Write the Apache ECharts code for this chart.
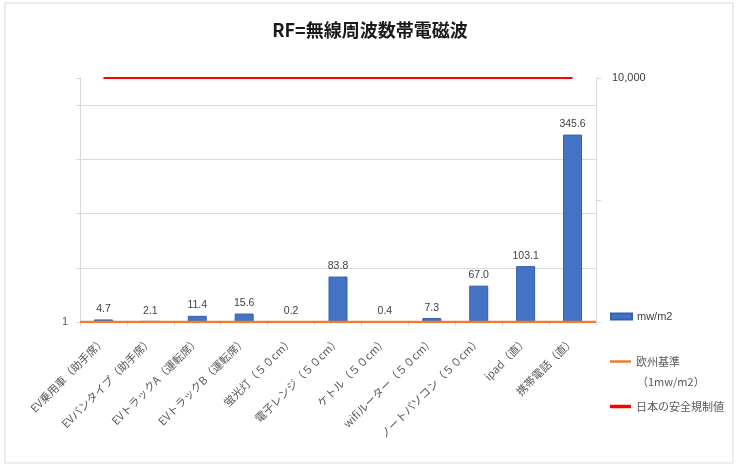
<!DOCTYPE html>
<html>
<head>
<meta charset="utf-8">
<script src="https://cdn.jsdelivr.net/npm/echarts@6/dist/echarts.min.js"></script>
<style>
html, body { margin: 0; padding: 0; background: #fff; }
#main { width: 740px; height: 468px; }
</style>
</head>
<body>
<div id="main"></div>
<script>
// chart data
var chartTitle = "RF=無線周波数帯電磁波";
var categories = [
    "EV乗用車（助手席）", "EVバンタイプ（助手席）", "EVトラックA（運転席）", "EVトラックB（運転席）",
    "蛍光灯（５０cm）", "電子レンジ（５０cm）", "ケトル（５０cm）", "wifiルーター（５０cm）",
    "ノートパソコン（５０cm）", "ipad（直）", "携帯電話（直）"
];
var exposure = [4.7, 2.1, 11.4, 15.6, 0.2, 83.8, 0.4, 7.3, 67.0, 103.1, 345.6];
var euLimit = [1, 1, 1, 1, 1, 1, 1, 1, 1, 1, 1];
var jpLimit = [10000, 10000, 10000, 10000, 10000, 10000, 10000, 10000, 10000, 10000, 10000];
var leftTickLabel = "1";
var rightTickLabel = "10,000";

var fontJP = "'Noto Sans CJK JP', sans-serif";
var fontNum = "'Liberation Sans', 'Noto Sans CJK JP', sans-serif";
var gray = "#d9d9d9";

var chart = echarts.init(document.getElementById("main"));

var option = {
    animation: false,
    backgroundColor: "#fff",
    title: {
        text: chartTitle,
        left: "center",
        top: 21,
        padding: 0,
        textStyle: { fontFamily: fontJP, fontSize: 18, fontWeight: "bold", color: "#1a1a1a" }
    },
    grid: { left: 80, right: 144, top: 78, bottom: 146 },
    legend: [{
        data: ["mw/m2"], orient: "vertical", left: 610, top: 311, padding: 0,
        icon: "rect", itemWidth: 21, itemHeight: 6,
        textStyle: { fontFamily: fontNum, fontSize: 11, color: "#404040" }
    }, {
        data: ["欧州基準"], orient: "vertical", left: 610, top: 356, padding: 0,
        icon: "rect", itemWidth: 21, itemHeight: 2.5,
        textStyle: { fontFamily: fontJP, fontSize: 11, color: "#595959" }
    }, {
        data: ["日本の安全規制値"], orient: "vertical", left: 610, top: 401, padding: 0,
        icon: "rect", itemWidth: 21, itemHeight: 3.5,
        textStyle: { fontFamily: fontJP, fontSize: 11, color: "#595959" }
    }],
    graphic: [{
        type: "rect",
        shape: { x: 5, y: 3, width: 728, height: 460 },
        style: { fill: "none", stroke: gray, lineWidth: 1 }
    }, {
        type: "text",
        x: 637, y: 382,
        style: { text: "（1mw/m2）", fill: "#595959", font: "11px " + fontJP, textVerticalAlign: "middle" }
    }],
    xAxis: [{
        type: "category",
        data: categories,
        axisLine: { lineStyle: { color: gray } },
        axisTick: { show: true, length: 4, lineStyle: { color: gray } },
        axisLabel: { interval: 0, rotate: 45, margin: 17, fontFamily: fontJP, fontSize: 11, color: "#595959" }
    }, {
        type: "category",
        data: categories,
        boundaryGap: false,
        show: false
    }],
    yAxis: [{
        type: "value",
        min: 0, max: 450, interval: 100,
        axisLine: { show: true, lineStyle: { color: gray } },
        axisTick: { show: true, length: 4, lineStyle: { color: gray } },
        splitLine: { lineStyle: { color: [gray, gray, gray, gray, gray, "rgba(0,0,0,0)"] } },
        axisLabel: {
            margin: 12, fontFamily: fontNum, fontSize: 11, color: "#595959",
            padding: [0, 0, 10, 0],
            formatter: function (v) { return v === 0 ? leftTickLabel : ""; }
        }
    }, {
        type: "value",
        position: "right",
        min: 0, max: 10000, interval: 5000,
        axisLine: { show: true, lineStyle: { color: gray } },
        axisTick: { show: true, length: 5, lineStyle: { color: gray } },
        splitLine: { show: false },
        axisLabel: {
            margin: 16, fontFamily: fontNum, fontSize: 11, color: "#404040",
            formatter: function (v) { return v === 10000 ? rightTickLabel : ""; }
        }
    }],
    series: [{
        name: "mw/m2",
        type: "bar",
        data: exposure,
        barWidth: 19,
        itemStyle: { color: "#4472C4", borderColor: "#3560ad", borderWidth: 1 },
        label: {
            show: true, position: "top", distance: 5,
            fontFamily: fontNum, fontSize: 10.5, color: "#404040",
            formatter: function (p) { return p.value.toFixed(1); }
        },
        z: 2
    }, {
        name: "欧州基準",
        type: "line",
        xAxisIndex: 1, yAxisIndex: 1,
        data: euLimit,
        symbol: "none",
        itemStyle: { color: "#ED7D31" },
        lineStyle: { color: "#ED7D31", width: 2.5 },
        z: 4
    }, {
        name: "日本の安全規制値",
        type: "line",
        yAxisIndex: 1,
        data: jpLimit,
        symbol: "none",
        itemStyle: { color: "#FF0000" },
        lineStyle: { color: "#FF0000", width: 2 },
        z: 4
    }]
};

chart.setOption(option);
</script>
</body>
</html>
